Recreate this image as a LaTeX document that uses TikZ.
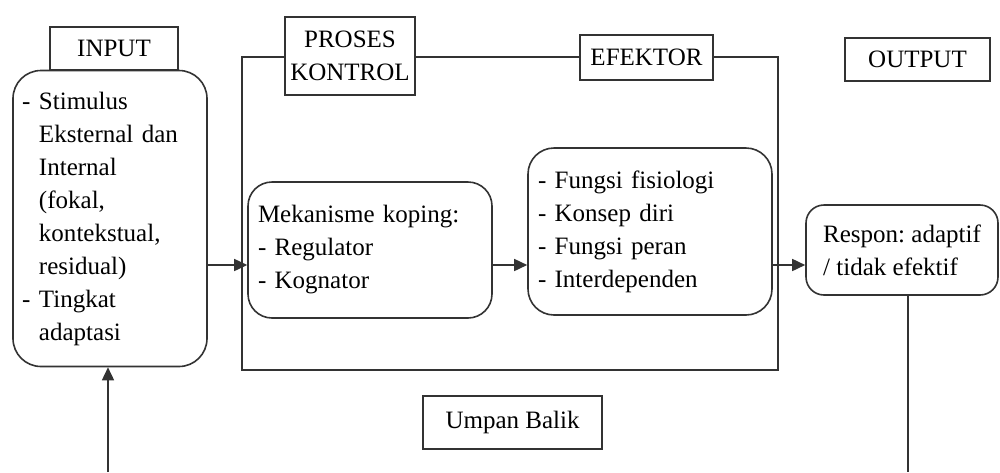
\documentclass[tikz,border=0pt]{standalone}
\usepackage{fontspec}
\setmainfont{Liberation Serif}
\usetikzlibrary{arrows.meta,calc}
\tikzset{
  ln/.style={draw=black!80, line width=1.6pt},
  lbl/.style={ln, fill=white, rectangle, inner sep=0pt, align=center},
  rbox/.style={ln, fill=white, rectangle, rounded corners=#1, inner ysep=0pt, align=left},
  arr/.style={ln, -{Triangle[length=13pt,width=12pt]}},
}
\begin{document}
\frenchspacing
\begin{tikzpicture}[x=1pt,y=-1pt,font=\fontsize{25}{33}\selectfont]
\useasboundingbox (0,0) rectangle (1000,472);
% frame
\draw[ln] (242,57) rectangle (778,370);
% label boxes
\node[lbl, minimum width=128pt, minimum height=43pt] (inputlbl) at (114,48.5) {INPUT};
\node[lbl, minimum width=130pt, minimum height=78pt] (proses) at (350,56) {PROSES\\KONTROL};
\node[lbl, minimum width=133pt, minimum height=45pt] (efektorlbl) at (646.5,57.5) {EFEKTOR};
\node[lbl, minimum width=145pt, minimum height=43pt] (outputlbl) at (917.5,59.5) {OUTPUT};
\node[lbl, minimum width=179pt, minimum height=53pt] (umpan) at (512.5,422.5) {Umpan Balik};
% content boxes
\node[rbox=28pt, minimum width=194pt, minimum height=296pt, inner xsep=9pt, text width=176pt] (inputbox) at (110,218.5)
  {\makebox[17pt][l]{-}Stimulus\\
   \hspace*{17pt}Eksternal dan\\
   \hspace*{17pt}Internal\\
   \hspace*{17pt}(fokal,\\
   \hspace*{17pt}kontekstual,\\
   \hspace*{17pt}residual)\\
   \makebox[17pt][l]{-}Tingkat\\
   \hspace*{17pt}adaptasi};
\node[rbox=24pt, minimum width=244pt, minimum height=136pt, inner xsep=10pt, text width=224pt] (meka) at (370,250)
  {Mekanisme koping:\\- Regulator\\- Kognator};
\node[rbox=26pt, minimum width=244pt, minimum height=167pt, inner xsep=10pt, text width=224pt] (efek) at (650,231.5)
  {- Fungsi fisiologi\\- Konsep diri\\- Fungsi peran\\- Interdependen};
\node[rbox=18pt, minimum width=192pt, minimum height=90pt, inner xsep=0pt] (respon) at (902,250)
  {Respon: adaptif\\/ tidak efektif};
% connectors
\coordinate (ay) at (0,265);
\coordinate (fb1) at (908,472);
\coordinate (fb2) at (108,472);
\draw[arr] (inputbox.east |- ay) -- (meka.west |- ay);
\draw[arr] (meka.east |- ay) -- (efek.west |- ay);
\draw[arr] (efek.east |- ay) -- (respon.west |- ay);
\draw[ln] (respon.south -| fb1) -- (fb1);
\draw[arr] (fb2) -- (inputbox.south -| fb2);
\end{tikzpicture}
\end{document}
